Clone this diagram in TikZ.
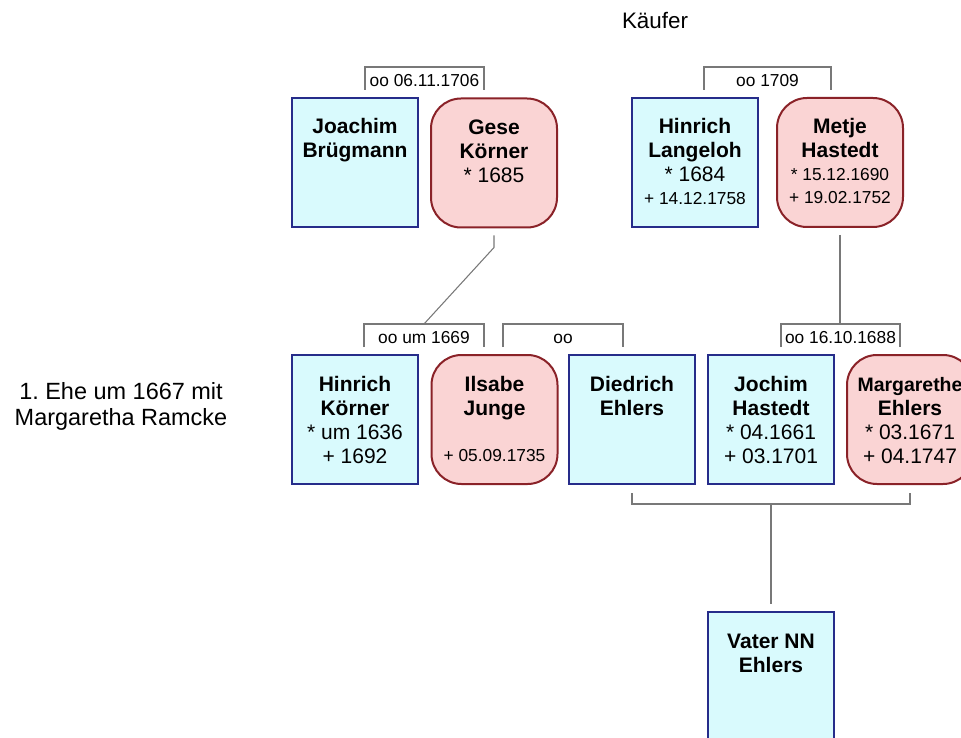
\documentclass[tikz,border=0pt]{standalone}
\usepackage{fontspec}
\setmainfont{Liberation Sans}
\usetikzlibrary{calc}
\frenchspacing

\definecolor{mfill}{RGB}{217,250,253}
\definecolor{mline}{RGB}{38,44,138}
\definecolor{ffill}{RGB}{250,212,212}
\definecolor{fline}{RGB}{138,34,40}
\definecolor{linkgray}{RGB}{120,120,120}

% text styles inside the person boxes
\newcommand{\pname}{\fontsize{15.75}{18}\selectfont\bfseries}
\newcommand{\pnarrow}{\fontsize{14.6}{18}\selectfont\bfseries}
\newcommand{\pdate}{\fontsize{15.75}{18}\selectfont\mdseries}
\newcommand{\psmall}{\fontsize{13}{17}\selectfont\mdseries}
% box content: fixed size, text hanging from the top
\newcommand{\pcontent}[1]{\parbox[c][96.75pt][t]{94.5pt}{\centering\rule{0pt}{27pt}#1}}

\begin{document}
\begin{tikzpicture}[x=0.75pt,y=-0.75pt,
  person/.style={draw, line width=1.5pt, inner sep=0pt,
    minimum width=94.5pt, minimum height=96.75pt},
  male/.style={person, fill=mfill, draw=mline},
  female/.style={person, fill=ffill, draw=fline, rounded corners=22.5pt},
  link/.style={draw=linkgray, line width=0.8pt},
  wedlabel/.style={inner sep=0pt, anchor=base, font=\fontsize{13}{15}\selectfont}]

\path[use as bounding box] (0,0) rectangle (961,738);
\clip (0,0) rectangle (961,738);

% first generation
\node[male]   (joachim)  at (355,162.5) {\pcontent{\pname Joachim\\Brügmann}};
\node[female] (gese)     at (494,163)   {\pcontent{\pname Gese\\Körner\\\pdate * 1685}};
\node[male]   (langeloh) at (695,162.5) {\pcontent{\pname Hinrich\\Langeloh\\\pdate * 1684\\\psmall + 14.12.1758}};
\node[female] (metje)    at (840,162.5) {\pcontent{\pname Metje\\Hastedt\\\psmall * 15.12.1690\\+ 19.02.1752}};

% second generation
\node[male]   (koerner)    at (355,419.5)   {\pcontent{\pname Hinrich\\Körner\\\pdate * um 1636\\+ 1692}};
\node[female] (ilsabe)     at (494.5,419.5) {\pcontent{\pname Ilsabe\\Junge\\[17.5pt]\psmall + 05.09.1735}};
\node[male]   (diedrich)   at (632,419.5)   {\pcontent{\pname Diedrich\\Ehlers}};
\node[male]   (jochim)     at (771,419.5)   {\pcontent{\pname Jochim\\Hastedt\\\pdate * 04.1661\\+ 03.1701}};
\node[female] (margarethe) at (910,419.5)   {\pcontent{\pnarrow Margarethe\\\pname Ehlers\\\pdate * 03.1671\\+ 04.1747}};

% third generation
\node[male] (vater) at (771,676.5) {\pcontent{\pname Vater NN\\Ehlers}};

% marriage labels
\node[wedlabel] (m1) at (424.5,87)  {oo 06.11.1706};
\node[wedlabel] (m2) at (767.5,87)  {oo 1709};
\node[wedlabel] (m3) at (424,343)   {oo um 1669};
\node[wedlabel] (m4) at (563,343)   {oo};
\node[wedlabel] (m5) at (840.5,343) {oo 16.10.1688};

% marriage brackets
\coordinate (m1a) at (365,90);  \coordinate (m1b) at (484,90);
\coordinate (m2a) at (704,90);  \coordinate (m2b) at (831,90);
\coordinate (m3a) at (364,347); \coordinate (m3b) at (484,347);
\coordinate (m4a) at (503,347); \coordinate (m4b) at (623,347);
\coordinate (m5a) at (781,347); \coordinate (m5b) at (900,347);
\foreach \m in {m1,m2,m3,m4,m5}
  \draw[link] (\m a) -- ++(0,-23) -| (\m b);

% descent lines
\coordinate (m3top) at (424,324);
\coordinate (m5top) at (840,324);
\draw[link] ($(gese.south)+(0,7)$) -- ++(0,12) -- (m3top);
\draw[link] ($(metje.south)+(0,7)$) -- (m5top);

\coordinate (kids) at (771,504);
\draw[link] ($(diedrich.south)+(0,8)$) |- (kids) -| ($(margarethe.south)+(0,8)$);
\draw[link] (kids) -- ($(vater.north)+(0,-7)$);

% free texts
\node[anchor=base, inner sep=0pt, font=\fontsize{16.8}{20}\selectfont] (kaeufer) at (655,29) {Käufer};
\node[anchor=base, inner sep=0pt] (ehe) at (121,399)
  {\parbox[t]{200pt}{\centering\fontsize{17.6}{19.5}\selectfont 1. Ehe um 1667 mit\\Margaretha Ramcke}};
\end{tikzpicture}
\end{document}
